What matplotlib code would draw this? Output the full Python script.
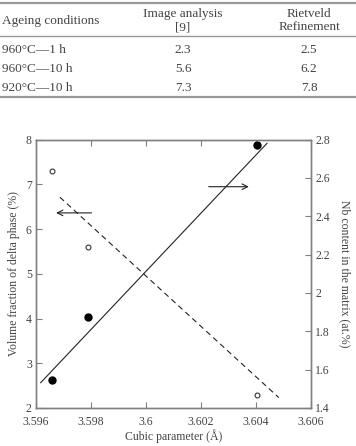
import matplotlib
matplotlib.use("Agg")
import matplotlib.pyplot as plt
from matplotlib.lines import Line2D

plt.rcParams['font.family'] = ['Liberation Serif', 'DejaVu Serif']

# table data
col_heads = ["Ageing conditions", "Image analysis\n[9]", "Rietveld\nRefinement"]
conditions = ["960°C—1 h", "960°C—10 h", "920°C—10 h"]
image_analysis = ["2.3", "5.6", "7.3"]
rietveld = ["2.5", "6.2", "7.8"]

# chart data
cubic_param = [3.59659, 3.5979, 3.60403]
vol_fraction = [2.63, 4.04, 7.88]        # filled, left axis
nb_content = [2.637, 2.238, 1.468]       # open, right axis
fit_vol_x = [3.59617, 3.6044]
fit_vol_y = [2.565, 7.915]
fit_nb_x = [3.59687, 3.60483]
fit_nb_y = [2.499, 1.454]

x_ticks = [3.596, 3.598, 3.6, 3.602, 3.604, 3.606]
x_labels = ["3.596", "3.598", "3.6", "3.602", "3.604", "3.606"]
left_ticks = [2, 3, 4, 5, 6, 7, 8]
right_ticks = [1.4, 1.6, 1.8, 2.0, 2.2, 2.4, 2.6, 2.8]
right_labels = ["1.4", "1.6", "1.8", "2", "2.2", "2.4", "2.6", "2.8"]

W, H = 356, 446
fig = plt.figure(figsize=(W / 100, H / 100), dpi=100)

def fy(py):  # pixel row -> figure coord
    return 1 - py / H

tc = "#444444"
fs_tab = 9.5
# table rules
for py, lw in [(3, 1.6), (36, 1.0), (97, 1.6)]:
    fig.add_artist(Line2D([0, 1], [fy(py), fy(py)], color="#999999", lw=lw))
fig.text(2 / W, fy(21), col_heads[0], ha="left", va="center", fontsize=fs_tab, color=tc)
fig.text(183 / W, fy(20.5), col_heads[1], ha="center", va="center", fontsize=fs_tab,
         color=tc, linespacing=1.2)
fig.text(309 / W, fy(20.5), col_heads[2], ha="center", va="center", fontsize=fs_tab,
         color=tc, linespacing=1.2)
for i, py in enumerate([50, 69, 88]):
    fig.text(2 / W, fy(py), conditions[i], ha="left", va="center", fontsize=fs_tab, color=tc)
    fig.text(183 / W, fy(py), image_analysis[i], ha="center", va="center", fontsize=fs_tab, color=tc)
    fig.text(309 / W, fy(py), rietveld[i], ha="center", va="center", fontsize=fs_tab, color=tc)

# chart
ax = fig.add_axes([36 / W, 1 - 408 / H, 275 / W, 268.5 / H])
ax2 = ax.twinx()

ax.plot(fit_vol_x, fit_vol_y, color="#222222", lw=0.8)
ax.plot(cubic_param, vol_fraction, "o", color="black", ms=5)
ax2.plot(fit_nb_x, fit_nb_y, color="#222222", lw=0.8, ls=(0, (5, 3.5)))
ax2.plot(cubic_param, nb_content, "o", mfc="white", mec="#333333", ms=3.5, mew=0.8)

ax.annotate("", xy=(3.59663, 6.36), xytext=(3.59812, 6.36),
            arrowprops=dict(arrowstyle="->", color="#222222", lw=0.8))
ax.annotate("", xy=(3.60384, 6.945), xytext=(3.60218, 6.945),
            arrowprops=dict(arrowstyle="->", color="#222222", lw=0.8))

ax.set_xlim(3.596, 3.606)
ax.set_ylim(2, 8)
ax2.set_ylim(1.4, 2.8)
ax.set_xticks(x_ticks)
ax.set_xticklabels(x_labels)
ax.set_yticks(left_ticks)
ax2.set_yticks(right_ticks)
ax2.set_yticklabels(right_labels)

lc = "#808080"
for a in (ax, ax2):
    for s in a.spines.values():
        s.set_color(lc)
        s.set_linewidth(1.0)
    a.tick_params(direction="in", length=4, width=0.8, color=lc, labelsize=8.5,
                  labelcolor=tc, pad=3)
ax.tick_params(axis="x", top=True, pad=5.5)

ax.set_xlabel("Cubic parameter (Å)", fontsize=8.5, color=tc, labelpad=1)
ax.set_ylabel("Volume fraction of delta phase (%)", fontsize=8.5, color=tc, labelpad=4)
ax2.set_ylabel("Nb content in the matrix (at.%)", fontsize=8.5, color=tc,
               rotation=270, labelpad=15)

fig.savefig("out.png", dpi=100)
